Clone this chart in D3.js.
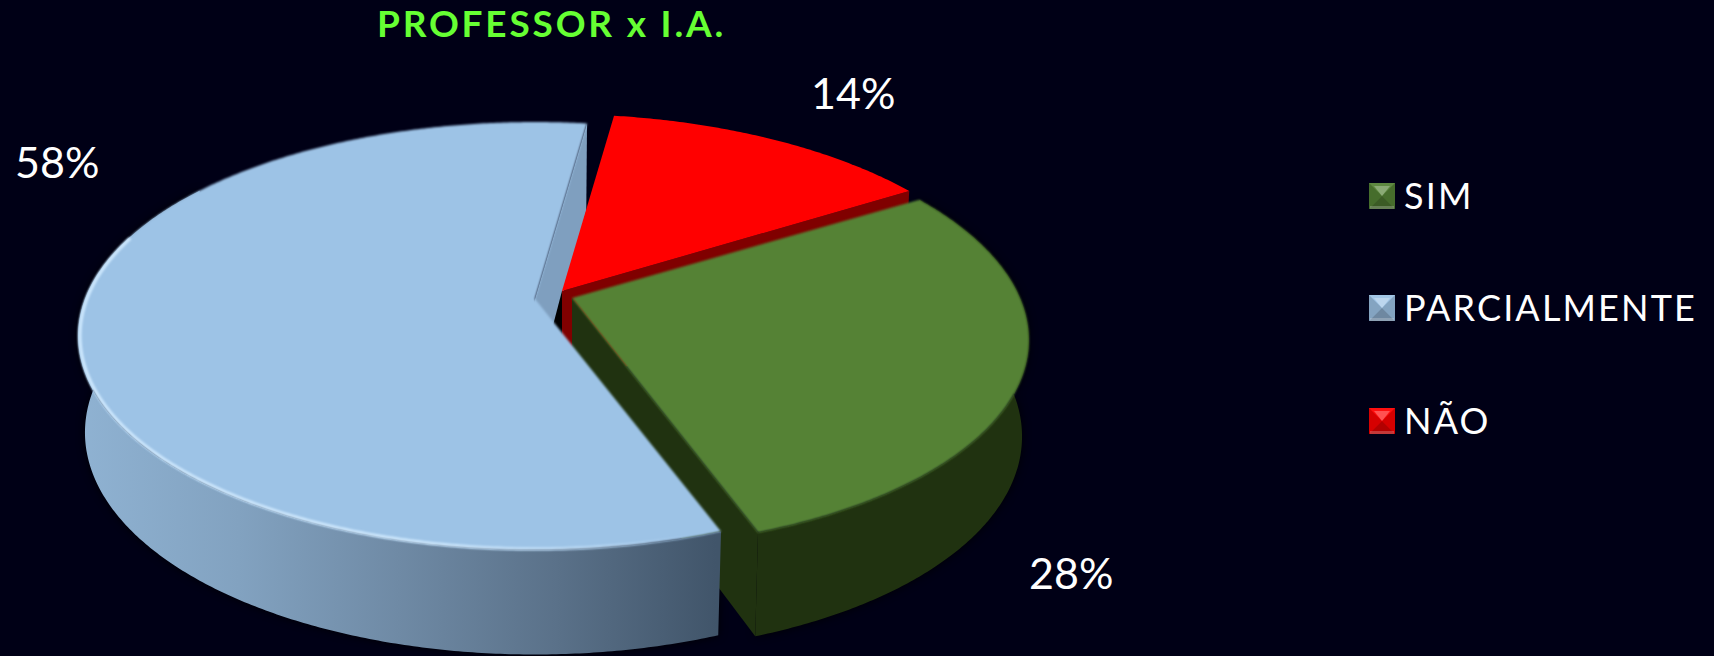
<!DOCTYPE html>
<html><head><meta charset="utf-8">
<script src="https://cdn.jsdelivr.net/npm/d3@7"></script>
<style>html,body{margin:0;padding:0;background:#000016;overflow:hidden}svg{display:block}text{font-family:Lato,"Open Sans",sans-serif}</style>
</head><body><svg id="c" width="1714" height="656"></svg>
<script>
const titleText = "PROFESSOR x I.A.";
const categories = ["SIM","PARCIALMENTE","NÃO"];
const values = [28.4,57.79,13.81];
const labels = ["28%","58%","14%"];
const topColors = ["#548235","#9DC3E6","#FF0000"];
const wallColors = ["#203210","#7F9FBF","#800000"];
const sliceOrigins = [[572,298],[535,299],[562,291]];
const sliceTilts = [0.011,0,0.006];
const labelAnchors = [[1029,589],[15,178],[811,109]];
const legendX = 1369, legendYs = [183,295,408];

const W=1714,H=656;
const A=450,B=207.6,K=0.173,DEPTH=95,SHRINK=0.985;
const rad=d=>d*Math.PI/180;
const svg=d3.select("#c");
svg.append("rect").attr("width",W).attr("height",H).attr("fill","#000016");
const defs=svg.append("defs");

const START=57.5;
const pie=d3.pie().sort(null).startAngle(rad(START)).endAngle(rad(START+360));
const arcs=pie(values);
const project=(i,a,r,bottom)=>{
  const o=sliceOrigins[i], tilt=sliceTilts[i];
  const t=a-Math.PI/2, w=1-K*r*Math.sin(t);
  const X=A*r*Math.cos(t)/w, Y=B*r*Math.sin(t)/w+tilt*A*r*Math.cos(t)/w;
  if(!bottom) return [o[0]+X,o[1]+Y];
  return [o[0]+X*SHRINK,o[1]+Y+DEPTH/Math.sqrt(w)];
};
const line=d3.line();
const samples=(a0,a1)=>{const n=Math.ceil((a1-a0)/rad(0.5));return d3.range(n+1).map(i=>a0+(a1-a0)*i/n);};
const topPts=(i,d)=>[project(i,0,0,false),...samples(d.startAngle,d.endAngle).map(a=>project(i,a,1,false))];
const sidePts=(i,a0,a1)=>{const s=samples(a0,a1);
  return [...s.map(a=>project(i,a,1,false)),...s.reverse().map(a=>project(i,a,1,true))];};
const radial=(i,a)=>[project(i,a,0,false),project(i,a,1,false),project(i,a,1,true),project(i,a,0,true)];

const sg=defs.append("linearGradient").attr("id","blueSide").attr("gradientUnits","userSpaceOnUse")
  .attr("x1",80).attr("x2",716).attr("y1",0).attr("y2",0);
[[0,"#8FB2D2"],[0.25,"#82A2C0"],[0.5,"#6F8AA5"],[0.75,"#5A7189"],[1,"#41556A"]].forEach(s=>sg.append("stop").attr("offset",s[0]).attr("stop-color",s[1]));
const hg=defs.append("linearGradient").attr("id","rimGlow").attr("gradientUnits","userSpaceOnUse")
  .attr("x1",80).attr("x2",716).attr("y1",0).attr("y2",0);
[[0,"#D0EAFF",1],[0.55,"#D0EAFF",1],[0.8,"#D0EAFF",.55],[0.96,"#D0EAFF",0]].forEach(s=>hg.append("stop").attr("offset",s[0]).attr("stop-color",s[1]).attr("stop-opacity",s[2]));
const blur=(id,sd)=>defs.append("filter").attr("id",id).attr("x","-10%").attr("y","-10%").attr("width","120%").attr("height","120%")
  .append("feGaussianBlur").attr("stdDeviation",sd);
blur("shadow",5);blur("soft",0.8);blur("bev",0.6);

const [g,b,r]=arcs;
const GI=0,BI=1,RI=2;
const blueSideEnd=rad(305);
const pie3d=svg.append("g");
pie3d.append("path").attr("d",line(sidePts(BI,b.startAngle,blueSideEnd))+"Z").attr("fill","#000").attr("filter","url(#shadow)").attr("opacity",.85);
pie3d.append("path").attr("d",line(sidePts(GI,g.startAngle,g.endAngle))+"Z").attr("fill","#000").attr("filter","url(#shadow)").attr("opacity",.85);

// blue far radial face
pie3d.append("path").attr("d",line(radial(BI,b.endAngle))+"Z").attr("fill",wallColors[1]);
// dark core sliver
pie3d.append("path").attr("d",line([project(RI,0,0,false),project(BI,0,0,true),project(RI,0,0,true)])+"Z").attr("fill","#000");
// red slice
pie3d.append("path").attr("d",line(radial(RI,r.endAngle))+"Z").attr("fill",wallColors[2]);
pie3d.append("path").attr("d",line(topPts(RI,r))+"Z").attr("fill",topColors[2]);
// green slice
pie3d.append("path").attr("d",line(sidePts(GI,g.startAngle,g.endAngle))+"Z").attr("fill",wallColors[0]);
pie3d.append("path").attr("d",line(radial(GI,g.endAngle))+"Z").attr("fill",wallColors[0]);
pie3d.append("path").attr("d",line(topPts(GI,g))+"Z").attr("fill",topColors[0]).attr("filter","url(#soft)");
// blue slice
pie3d.append("path").attr("d",line(sidePts(BI,b.startAngle,blueSideEnd))+"Z").attr("fill","url(#blueSide)");
pie3d.append("path").attr("d",line(topPts(BI,b))+"Z").attr("fill",topColors[1]).attr("filter","url(#soft)");
// bevel highlight on the front rim
pie3d.append("path")
  .attr("d",line(samples(rad(163),rad(288)).map(a=>project(BI,a,0.996,false))))
  .attr("fill","none").attr("stroke","url(#rimGlow)").attr("stroke-width",3).attr("filter","url(#soft)");

svg.append("text").attr("x",377).attr("y",37).attr("fill","#66FF33")
  .attr("font-size",37).attr("font-weight",700).attr("letter-spacing",2.8).text(titleText);

svg.selectAll("text.lab").data(labels).join("text").attr("class","lab")
  .attr("x",(d,i)=>labelAnchors[i][0]).attr("y",(d,i)=>labelAnchors[i][1])
  .attr("fill","#fff").attr("font-size",43).text(d=>d);

const sw=26;
const lg=svg.selectAll("g.leg").data(categories).join("g").attr("class","leg")
  .attr("transform",(d,i)=>`translate(${legendX},${legendYs[i]})`);
lg.append("rect").attr("width",sw).attr("height",sw).attr("fill",(d,i)=>topColors[i]);
const poly=(sel,pts,col,op)=>sel.append("path").attr("d",line(pts)+"Z").attr("fill",col).attr("opacity",op);
lg.each(function(){
  const s=d3.select(this).append("g").attr("filter","url(#bev)"),c=sw/2,m=[[c,c]];
  poly(s,[[0,0],[sw,0],...m],"#fff",.06);
  poly(s,[[0,0],[0,sw],...m],"#000",.16);
  poly(s,[[sw,0],[sw,sw],...m],"#000",.16);
  poly(s,[[0,sw],[sw,sw],...m],"#000",.3);
  poly(s,[[1,sw-3],[sw-1,sw-3],[sw-1,sw],[1,sw]],"#fff",.22);
  poly(s,[[c-8,3],[c+8,3],[c,c]],"#fff",.28);
});
lg.append("text").attr("x",35).attr("y",sw-0.5).attr("fill","#fff")
  .attr("font-size",36).attr("letter-spacing",2.15).text(d=>d);
</script></body></html>
